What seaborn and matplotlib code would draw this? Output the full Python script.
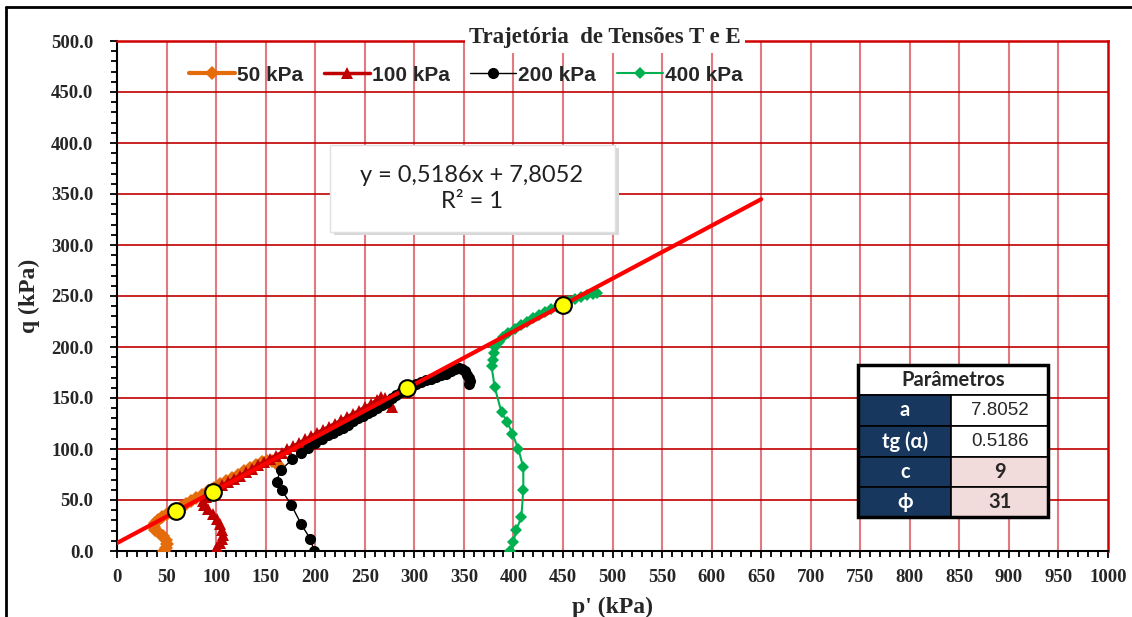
import matplotlib
matplotlib.use("Agg")
import matplotlib.pyplot as plt
import seaborn as sns
from matplotlib.patches import Rectangle
from matplotlib.lines import Line2D
from matplotlib.ticker import MultipleLocator, FormatStrFormatter

# trajetorias de tensoes (p', q) em kPa
p50 = [47, 49, 50, 49, 46, 42, 38, 37, 38, 41, 45, 50, 55, 60, 65, 70, 75, 80, 86, 92,
       98, 104, 110, 116, 122, 128, 134, 140, 146, 151, 156, 160, 162]
q50 = [0, 3, 7, 11, 15, 18, 21, 24, 27, 30, 33, 36, 38, 40, 43, 46, 49, 52, 55, 59,
       62, 66, 69, 72, 75, 78, 81, 84, 87, 88, 88, 86, 84]

p100 = [99, 101, 104, 106, 107, 106, 104, 101, 97, 92, 88, 87, 90, 95, 100, 106, 112, 118,
        124, 130, 136, 142, 148, 154, 160, 166, 172, 178, 184, 190, 196, 202, 208, 214, 220,
        226, 232, 238, 244, 250, 256, 262, 266, 270, 275, 278]
q100 = [0, 4, 8, 12, 16, 21, 26, 31, 36, 41, 45, 49, 53, 58, 61, 64.5, 67.5, 71,
        74, 77, 80.5, 84, 87, 90, 93.5, 96.5, 100, 103, 106, 109.5, 112.5, 116, 119, 122, 125,
        128, 131.5, 134.5, 137.5, 141, 144, 148, 151, 150, 145, 141]

p200 = [199, 195, 186, 176, 166, 161, 165, 177, 186, 193, 200, 207, 213, 218, 223, 228, 233,
        238, 243, 248, 253, 257, 262, 267, 272, 277, 282, 287, 292, 297, 302, 307, 312, 317,
        322, 327, 332, 337, 341, 345, 348, 351, 353, 355, 356, 355]
q200 = [0, 12, 26, 45, 60, 68, 79, 90, 96, 101, 106, 110, 114, 116, 119, 121, 124,
        127, 130, 132, 135, 137, 140, 143, 146, 150, 153, 156, 159, 162, 164, 166, 168, 169,
        171, 173, 174, 176, 178, 179, 178, 176, 173, 170, 167, 164]

p400 = [397, 400, 403, 408, 410, 410, 405, 399, 394, 388, 381, 378, 379, 380, 381, 385, 390,
        395, 402, 408, 414, 420, 426, 432, 438, 444, 450, 456, 462, 468, 474, 480, 484]
q400 = [0, 9, 21, 33, 60, 82, 100, 115, 126, 136, 161, 181, 187, 194, 200, 205, 210,
        214, 218, 222, 225, 228, 231, 234, 237, 239, 242, 245, 247, 249, 251, 252, 253]

# envoltoria ajustada e pontos de ruptura
coef_a = 7.8052
tg_alfa = 0.5186
p_fit = [0, 650]
q_fit = [tg_alfa * v + coef_a for v in p_fit]
p_rup = [60, 97, 293, 450]
q_rup = [39, 58, 160, 241]

param_nomes = ["a", "tg (α)", "c", "ϕ"]
param_valores = ["7.8052", "0.5186", "9", "31"]

sns.set_theme(style="white")
plt.rcParams["font.family"] = ["Liberation Serif", "DejaVu Serif"]

fig = plt.figure(figsize=(11.32, 6.17), dpi=100)
ax = fig.add_axes([117 / 1132, 1 - 551 / 617, 991 / 1132, 510 / 617])

series = [
    (p50, q50, "50 kPa", "#E46C0A", "D", 7, 3),
    (p100, q100, "100 kPa", "#C00000", "^", 9, 2.5),
    (p200, q200, "200 kPa", "black", "o", 8, 1.0),
    (p400, q400, "400 kPa", "#00B050", "D", 6, 1.5),
]
for px, qy, nome, cor, mk, ms, lw in series:
    sns.lineplot(x=px, y=qy, sort=False, estimator=None, ax=ax, color=cor,
                 marker=mk, markersize=ms, markeredgewidth=0, linewidth=lw,
                 label=nome, zorder=3)

ax.plot(p_fit, q_fit, color="#FF0000", linewidth=3, zorder=4)
ax.plot(p_rup, q_rup, linestyle="none", marker="o", markersize=12,
        markerfacecolor="#FFFF00", markeredgecolor="black", markeredgewidth=1.5, zorder=5)

ax.set_xlim(0, 1000)
ax.set_ylim(0, 500)
ax.xaxis.set_major_locator(MultipleLocator(50))
ax.xaxis.set_minor_locator(MultipleLocator(10))
ax.yaxis.set_major_locator(MultipleLocator(50))
ax.yaxis.set_minor_locator(MultipleLocator(10))
ax.yaxis.set_major_formatter(FormatStrFormatter("%.1f"))

ax.grid(False)
for v in range(50, 1000, 50):
    ax.axvline(v, color="#E07A80", linewidth=1.5, zorder=1)
for v in range(50, 500, 50):
    ax.axhline(v, color="#C00000", linewidth=1.2, zorder=1)

for lado in ["left", "bottom"]:
    ax.spines[lado].set_color("black")
    ax.spines[lado].set_linewidth(1.5)
for lado in ["top", "right"]:
    ax.spines[lado].set_color("#D00000")
    ax.spines[lado].set_linewidth(1.8)

ax.tick_params(which="both", direction="out", color="black", width=1.3)
ax.tick_params(which="major", length=5)
ax.tick_params(which="minor", length=4)
ax.tick_params(axis="x", which="both", bottom=True, top=False)
ax.tick_params(axis="y", which="both", left=True, right=False)
ax.tick_params(axis="y", which="major", pad=12)
ax.tick_params(axis="x", which="major", pad=8)
for lbl in ax.get_xticklabels() + ax.get_yticklabels():
    lbl.set_fontweight("bold")
    lbl.set_fontsize(13.5)

ax.set_xlabel("p' (kPa)", fontsize=17, fontweight="bold", labelpad=8)
ax.set_ylabel("q (kPa)", fontsize=17, fontweight="bold", labelpad=8)

ax.text(0.492, 1.006, "Trajetória  de Tensões T e E", transform=ax.transAxes,
        ha="center", va="center", fontsize=16.5, fontweight="bold", zorder=6,
        bbox=dict(facecolor="white", edgecolor="none", pad=3))

leg = ax.legend(loc="center", bbox_to_anchor=(0.352, 0.933), ncol=4, frameon=False,
                handlelength=2.2, handletextpad=0.1, columnspacing=1.0,
                prop={"family": "Liberation Sans", "weight": "bold", "size": 15})

# caixa da equacao
ax.add_patch(Rectangle((0.219, 0.619), 0.2875, 0.171, transform=ax.transAxes,
                       facecolor="#D8D8D8", edgecolor="none", zorder=6))
ax.add_patch(Rectangle((0.215, 0.6255), 0.2875, 0.1705, transform=ax.transAxes,
                       facecolor="white", edgecolor="#E0E0E0", linewidth=1, zorder=6))
ax.text(0.358, 0.711, "y = 0,5186x + 7,8052\nR² = 1", transform=ax.transAxes,
        ha="center", va="center", fontsize=17, family=["Lato", "DejaVu Sans"],
        color="#202020", linespacing=1.25, zorder=7)

# tabela de parametros
x0, xm, x1 = 748, 842, 939.5
linhas = [182, 153, 122.5, 92.5, 63, 33.6]
ax.add_patch(Rectangle((x0, linhas[1]), x1 - x0, linhas[0] - linhas[1],
                       facecolor="white", edgecolor="black", linewidth=1.2, zorder=6))
ax.text((x0 + x1) / 2, (linhas[0] + linhas[1]) / 2, "Parâmetros", ha="center", va="center",
        fontsize=14.5, fontweight="bold", family=["Lato", "DejaVu Sans"], zorder=7)
for i, (nome, valor) in enumerate(zip(param_nomes, param_valores)):
    topo, base = linhas[i + 1], linhas[i + 2]
    ax.add_patch(Rectangle((x0, base), xm - x0, topo - base, facecolor="#17375E",
                           edgecolor="black", linewidth=1.2, zorder=6))
    fundo = "white" if i < 2 else "#F2DCDB"
    ax.add_patch(Rectangle((xm, base), x1 - xm, topo - base, facecolor=fundo,
                           edgecolor="black", linewidth=1.2, zorder=6))
    ax.text((x0 + xm) / 2, (topo + base) / 2, nome, ha="center", va="center", color="white",
            fontsize=14.5, fontweight="bold", family=["Lato", "DejaVu Sans"], zorder=7)
    if i < 2:
        ax.text((xm + x1) / 2, (topo + base) / 2, valor, ha="center", va="center",
                fontsize=13.5, family=["Liberation Sans"], zorder=7)
    else:
        ax.text((xm + x1) / 2, (topo + base) / 2, valor, ha="center", va="center",
                fontsize=14.5, fontweight="bold", family=["Lato", "DejaVu Sans"], zorder=7)
ax.add_patch(Rectangle((x0, linhas[-1]), x1 - x0, linhas[0] - linhas[-1], facecolor="none",
                       edgecolor="black", linewidth=2.5, zorder=8))

# moldura externa
fig.add_artist(Line2D([6 / 1132, 6 / 1132], [0, 1 - 7 / 617], color="black", linewidth=2))
fig.add_artist(Line2D([6 / 1132, 1], [1 - 7 / 617, 1 - 7 / 617], color="black", linewidth=2))

plt.savefig("out.png", dpi=100)
plt.close()
